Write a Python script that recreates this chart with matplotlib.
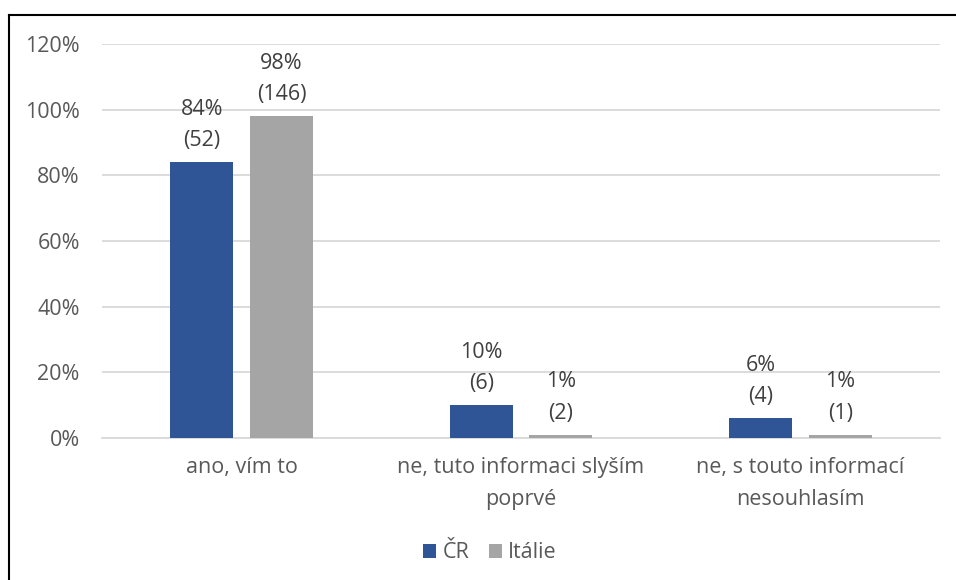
import matplotlib.pyplot as plt
import numpy as np
from matplotlib.lines import Line2D

plt.rcParams['font.family'] = ['Open Sans', 'DejaVu Sans']

categories = ["ano, vím to", "ne, tuto informaci slyším\npoprvé", "ne, s touto informací\nnesouhlasím"]
series_names = ["ČR", "Itálie"]
cr_pct = [84, 10, 6]
cr_count = [52, 6, 4]
it_pct = [98, 1, 1]
it_count = [146, 2, 1]
yticks = [0, 20, 40, 60, 80, 100, 120]

W, H = 956, 580
fig = plt.figure(figsize=(W / 100, H / 100), dpi=100)
ax = fig.add_axes([102 / W, 1 - 438 / H, (940 - 102) / W, (438 - 44) / H])

text_col = '#595959'
fs = 15.5
colors = ['#2F5597', '#A5A5A5']
x = np.arange(len(categories))
width = 0.225
offset = 0.1425

series = [(cr_pct, cr_count), (it_pct, it_count)]
for i, ((pcts, counts), col) in enumerate(zip(series, colors)):
    pos = x + (-offset if i == 0 else offset)
    ax.bar(pos, pcts, width=width, color=col, zorder=3, label=series_names[i])
    for px, p, c in zip(pos, pcts, counts):
        ax.text(px, p + 3.4, f"{p}%\n({c})", ha='center', va='bottom',
                fontsize=fs, color='#404040', linespacing=1.65)

ax.set_xlim(-0.5, 2.5)
ax.set_ylim(0, 120)
ax.set_yticks(yticks)
ax.set_yticklabels([f"{t}%" for t in yticks])
ax.yaxis.grid(True, color='#D9D9D9', linewidth=1.3, zorder=0)
ax.set_xticks(x)
ax.set_xticklabels(categories, linespacing=1.65)
ax.tick_params(axis='both', length=0, labelsize=fs, labelcolor=text_col)
ax.tick_params(axis='y', pad=16)
ax.tick_params(axis='x', pad=14)
for s in ['top', 'right', 'left']:
    ax.spines[s].set_visible(False)
ax.spines['bottom'].set_color('#D9D9D9')
ax.spines['bottom'].set_linewidth(1.3)

fig.legend(loc='center', bbox_to_anchor=(490 / W, 1 - 553 / H), ncol=2, frameon=False,
           fontsize=fs, labelcolor=text_col, handlelength=0.6, handleheight=0.6,
           handletextpad=0.3, columnspacing=0.9)

# frame lines along top and left edges
fig.add_artist(Line2D([9 / W, 1], [1 - 15 / H, 1 - 15 / H], color='black', linewidth=1.5))
fig.add_artist(Line2D([9 / W, 9 / W], [0, 1 - 15 / H], color='black', linewidth=1.5))

fig.savefig('out.png', dpi=100)
